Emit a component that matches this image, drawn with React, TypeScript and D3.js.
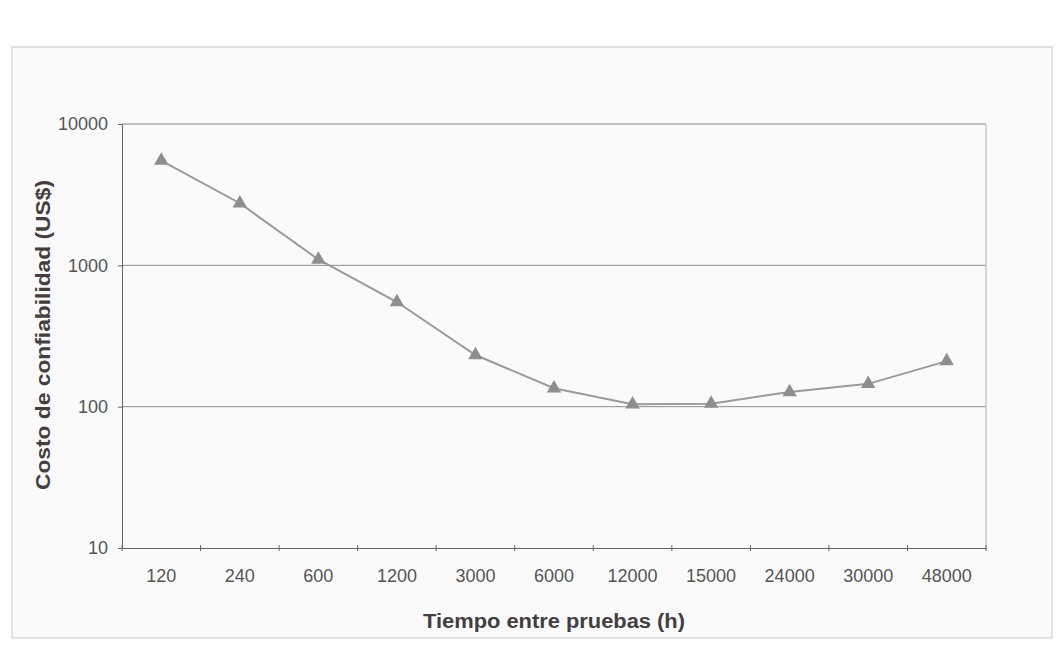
import React, { useEffect, useRef } from 'react';
import * as d3 from 'd3';

// intervalo entre pruebas (h) y costo (US$)
const categories = ['120', '240', '600', '1200', '3000', '6000', '12000', '15000', '24000', '30000', '48000'];
const costValues = [5500, 2750, 1100, 550, 232, 135, 104, 105, 127, 145, 210];
const yTicks = [10, 100, 1000, 10000];

const FONT = '"Liberation Sans", Arial, sans-serif';

const App = () => {
    const svgRef = useRef<SVGSVGElement>(null);

    useEffect(() => {
        const width = 1056;
        const height = 671;
        const margin = { top: 124, right: 70, bottom: 123, left: 122 };
        const innerW = width - margin.left - margin.right;
        const innerH = height - margin.top - margin.bottom;

        const svg = d3.select(svgRef.current);
        svg.selectAll('*').remove();
        svg.attr('width', width).attr('height', height);

        // marco exterior
        svg.append('rect')
            .attr('x', 12).attr('y', 47)
            .attr('width', 1040).attr('height', 591)
            .attr('fill', '#fafafa')
            .attr('stroke', '#c8c8c8')
            .attr('stroke-width', 1);

        const g = svg.append('g')
            .attr('transform', `translate(${margin.left},${margin.top})`);

        const x = d3.scaleBand<string>()
            .domain(categories)
            .range([0, innerW]);

        const y = d3.scaleLog()
            .domain([10, 10000])
            .range([innerH, 0]);

        // rejilla
        g.selectAll('.grid')
            .data(yTicks.slice(1))
            .enter().append('line')
            .attr('x1', 0).attr('x2', innerW)
            .attr('y1', d => y(d)).attr('y2', d => y(d))
            .attr('stroke', '#8c8c8c')
            .attr('stroke-width', 1);

        g.append('line')
            .attr('x1', innerW).attr('x2', innerW)
            .attr('y1', 0).attr('y2', innerH)
            .attr('stroke', '#b4b4b4');

        // eje y
        const yAxis = g.append('g')
            .call(d3.axisLeft(y).tickValues(yTicks).tickFormat(d3.format('d')).tickSize(4).tickPadding(10));
        yAxis.select('.domain').attr('stroke', '#666');
        yAxis.selectAll('.tick line').attr('stroke', '#666');
        yAxis.selectAll('text')
            .attr('fill', '#555')
            .style('font-family', FONT)
            .style('font-size', '18px');

        // eje x
        const xAxis = g.append('g')
            .attr('transform', `translate(0,${innerH})`)
            .call(d3.axisBottom(x).tickSize(0).tickPadding(21));
        xAxis.select('.domain').attr('stroke', '#666');
        xAxis.selectAll('text')
            .attr('fill', '#555')
            .style('font-family', FONT)
            .style('font-size', '18px');

        g.selectAll('.xtick')
            .data(categories.map((c, i) => i).concat([categories.length]))
            .enter().append('line')
            .attr('x1', d => d * x.step()).attr('x2', d => d * x.step())
            .attr('y1', innerH - 3).attr('y2', innerH + 3)
            .attr('stroke', '#666');

        // serie
        const cx = (i: number) => (x(categories[i]) ?? 0) + x.bandwidth() / 2;
        const line = d3.line<number>()
            .x((d, i) => cx(i))
            .y(d => y(d));

        g.append('path')
            .datum(costValues)
            .attr('fill', 'none')
            .attr('stroke', '#9a9a9a')
            .attr('stroke-width', 2)
            .attr('d', line);

        const tri = d3.symbol().type(d3.symbolTriangle).size(90);
        g.selectAll('.pt')
            .data(costValues)
            .enter().append('path')
            .attr('d', tri)
            .attr('transform', (d, i) => `translate(${cx(i)},${y(d)})`)
            .attr('fill', '#8e8e8e');

        // titulos
        svg.append('text')
            .attr('x', margin.left + innerW / 2)
            .attr('y', 628)
            .attr('text-anchor', 'middle')
            .attr('fill', '#433e41')
            .attr('textLength', 262)
            .attr('lengthAdjust', 'spacingAndGlyphs')
            .style('font-family', FONT)
            .style('font-size', '20px')
            .style('font-weight', 'bold')
            .text('Tiempo entre pruebas (h)');

        svg.append('text')
            .attr('transform', `translate(50,335) rotate(-90)`)
            .attr('text-anchor', 'middle')
            .attr('fill', '#433e41')
            .attr('textLength', 310)
            .attr('lengthAdjust', 'spacingAndGlyphs')
            .style('font-family', FONT)
            .style('font-size', '20px')
            .style('font-weight', 'bold')
            .text('Costo de confiabilidad (US$)');
    }, []);

    return (
        <div style={{ position: 'absolute', left: 0, top: 0 }}>
            <svg ref={svgRef}></svg>
        </div>
    );
};

export default App;
